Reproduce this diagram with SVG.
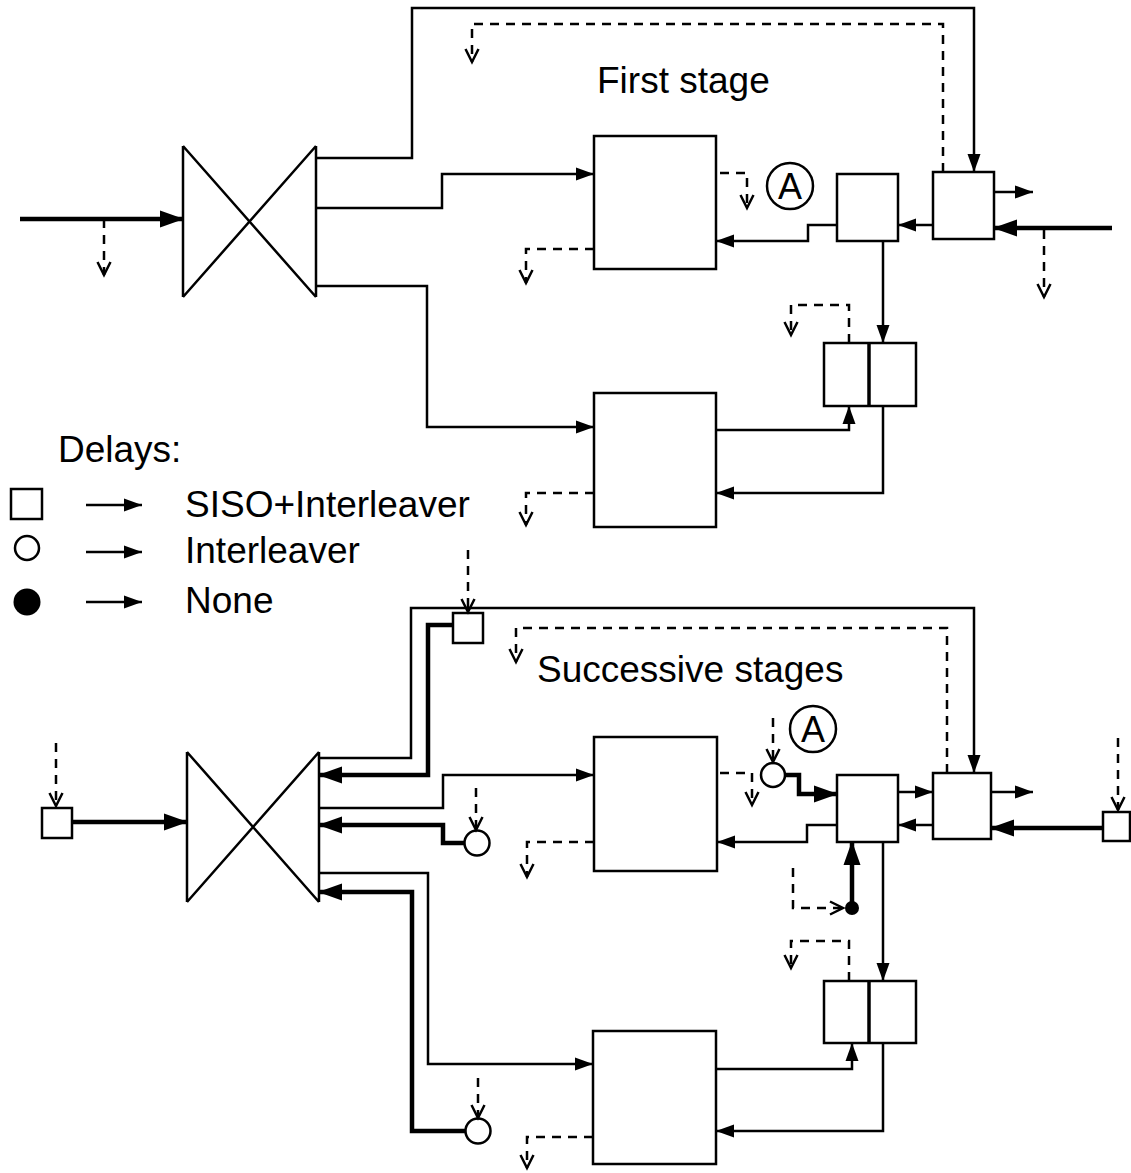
<svg xmlns="http://www.w3.org/2000/svg" width="1131" height="1173" viewBox="0 0 1131 1173">
<style>
.ln{fill:none;stroke:#000;stroke-width:2.5;stroke-linejoin:miter}
.tk{fill:none;stroke:#000;stroke-width:4.5;stroke-linejoin:miter}
.ds{fill:none;stroke:#000;stroke-width:2.5;stroke-dasharray:9 7}
.bx{fill:#fff;stroke:#000;stroke-width:2.5}
.txt{font-family:"Liberation Sans",Arial,sans-serif;font-size:37px;fill:#000}
.lbl{font-family:"Liberation Sans",Arial,sans-serif;font-size:36px;fill:#000;text-anchor:middle}
</style>
<defs>
<marker id="ah" markerUnits="userSpaceOnUse" markerWidth="18" markerHeight="13" refX="18" refY="6.5" orient="auto" overflow="visible"><path d="M0,0 L18,6.5 L0,13 z" fill="#000"/></marker>
<marker id="ahk" markerUnits="userSpaceOnUse" markerWidth="24" markerHeight="17" refX="23" refY="8.5" orient="auto" overflow="visible"><path d="M0,0 L24,8.5 L0,17 z" fill="#000"/></marker>
<marker id="ao" markerUnits="userSpaceOnUse" markerWidth="14" markerHeight="13" refX="13" refY="6.5" orient="auto" overflow="visible"><path d="M0,0 L13,6.5 L0,13" fill="none" stroke="#000" stroke-width="2.5"/></marker>
</defs>

<!-- ============ TOP: First stage ============ -->
<g id="butterfly1">
<path class="ln" d="M183,146 L183,297 M316,146 L316,297 M183,146 L316,297 M316,146 L183,297"/>
</g>
<g id="siso1a"><rect class="bx" x="594" y="136" width="122" height="133"/></g>
<g id="siso1b"><rect class="bx" x="594" y="393" width="122" height="134"/></g>
<g id="box1b"><rect class="bx" x="837" y="174" width="61" height="67"/></g>
<g id="box1c"><rect class="bx" x="933" y="172" width="61" height="67"/></g>
<g id="dbl1"><rect class="bx" x="824" y="343" width="92" height="63"/><line x1="869" y1="343" x2="869" y2="406" stroke="#000" stroke-width="3.5"/></g>
<g id="markA1"><circle cx="790" cy="186" r="23" fill="none" stroke="#000" stroke-width="2.5"/><text class="lbl" x="790" y="199">A</text></g>
<g id="title1"><text class="txt" x="597" y="93">First stage</text></g>

<!-- ============ Legend ============ -->
<g id="legend">
<text class="txt" x="58" y="462">Delays:</text>
<rect class="bx" x="11" y="489" width="31" height="30"/>
<circle cx="27" cy="548" r="12" fill="#fff" stroke="#000" stroke-width="2.5"/>
<circle cx="27" cy="602" r="13.5" fill="#000"/>
<line class="ln" x1="86" y1="505" x2="142" y2="505" marker-end="url(#ah)"/>
<line class="ln" x1="86" y1="552" x2="142" y2="552" marker-end="url(#ah)"/>
<line class="ln" x1="86" y1="602" x2="142" y2="602" marker-end="url(#ah)"/>
<text class="txt" x="185" y="517">SISO+Interleaver</text>
<text class="txt" x="185" y="563">Interleaver</text>
<text class="txt" x="185" y="613">None</text>
</g>

<!-- ============ BOTTOM: Successive stages ============ -->
<g id="butterfly2">
<path class="ln" d="M187,752 L187,902 M319,752 L319,902 M187,752 L319,902 M319,752 L187,902"/>
</g>
<g id="sqIn"><rect class="bx" x="42" y="808" width="30" height="30"/></g>
<g id="sqTop"><rect class="bx" x="453" y="613" width="30" height="30"/></g>
<g id="circMid"><circle cx="477" cy="843" r="12.5" fill="#fff" stroke="#000" stroke-width="2.5"/></g>
<g id="circBot"><circle cx="478" cy="1131" r="12.5" fill="#fff" stroke="#000" stroke-width="2.5"/></g>
<g id="siso2a"><rect class="bx" x="594" y="737" width="123" height="134"/></g>
<g id="siso2b"><rect class="bx" x="593" y="1031" width="123" height="133"/></g>
<g id="circInt"><circle cx="773" cy="775" r="12" fill="#fff" stroke="#000" stroke-width="2.5"/></g>
<g id="markA2"><circle cx="813" cy="729" r="23" fill="none" stroke="#000" stroke-width="2.5"/><text class="lbl" x="813" y="742">A</text></g>
<g id="box2b"><rect class="bx" x="837" y="775" width="61" height="67"/></g>
<g id="box2c"><rect class="bx" x="933" y="773" width="58" height="66"/></g>
<g id="sqRight"><rect class="bx" x="1103" y="812" width="27" height="29"/></g>
<g id="dot"><circle cx="852" cy="908" r="7" fill="#000"/></g>
<g id="dbl2"><rect class="bx" x="824" y="981" width="92" height="62"/><line x1="869" y1="981" x2="869" y2="1043" stroke="#000" stroke-width="3.5"/></g>
<g id="title2"><text class="txt" x="537" y="682">Successive stages</text></g>

<!-- ============ Connectors ============ -->
<g id="connectors">
<!-- top -->
<polyline class="tk" points="20,219 183,219" marker-end="url(#ahk)"/>
<polyline class="ds" points="104,219 104,275" marker-end="url(#ao)"/>
<polyline class="ln" points="316,158 412,158 412,8 974,8 974,172" marker-end="url(#ah)"/>
<polyline class="ln" points="316,208 442,208 442,174 594,174" marker-end="url(#ah)"/>
<polyline class="ln" points="316,286 427,286 427,427 594,427" marker-end="url(#ah)"/>
<polyline class="ds" points="943,172 943,24 472,24 472,62" marker-end="url(#ao)"/>
<polyline class="ds" points="720,173 747,173 747,208" marker-end="url(#ao)"/>
<polyline class="ds" points="594,249 526,249 526,283" marker-end="url(#ao)"/>
<polyline class="ln" points="994,192 1033,192" marker-end="url(#ah)"/>
<polyline class="tk" points="1112,228 994,228" marker-end="url(#ahk)"/>
<polyline class="ds" points="1044,230 1044,297" marker-end="url(#ao)"/>
<polyline class="ln" points="933,225 898,225" marker-end="url(#ah)"/>
<polyline class="ln" points="837,225 808,225 808,241 716,241" marker-end="url(#ah)"/>
<polyline class="ln" points="883,241 883,343" marker-end="url(#ah)"/>
<polyline class="ds" points="849,343 849,305 791,305 791,335" marker-end="url(#ao)"/>
<polyline class="ln" points="716,430 849,430 849,406" marker-end="url(#ah)"/>
<polyline class="ln" points="883,406 883,493 716,493" marker-end="url(#ah)"/>
<polyline class="ds" points="594,493 526,493 526,525" marker-end="url(#ao)"/>
<!-- bottom -->
<polyline class="tk" points="72,822 187,822" marker-end="url(#ahk)"/>
<polyline class="ds" points="56,743 56,806" marker-end="url(#ao)"/>
<polyline class="ln" points="319,758 411,758 411,608 974,608 974,773" marker-end="url(#ah)"/>
<polyline class="tk" points="453,625 428,625 428,775 319,775" marker-end="url(#ahk)"/>
<polyline class="ds" points="468,550 468,612" marker-end="url(#ao)"/>
<polyline class="ln" points="319,808 443,808 443,775 594,775" marker-end="url(#ah)"/>
<polyline class="tk" points="464,843 443,843 443,825 319,825" marker-end="url(#ahk)"/>
<polyline class="ds" points="476,788 476,830" marker-end="url(#ao)"/>
<polyline class="ln" points="319,873 428,873 428,1064 593,1064" marker-end="url(#ah)"/>
<polyline class="tk" points="465,1131 412,1131 412,892 319,892" marker-end="url(#ahk)"/>
<polyline class="ds" points="478,1078 478,1118" marker-end="url(#ao)"/>
<polyline class="ds" points="947,773 947,628 516,628 516,662" marker-end="url(#ao)"/>
<polyline class="ds" points="720,773 752,773 752,805" marker-end="url(#ao)"/>
<polyline class="ds" points="773,718 773,762" marker-end="url(#ao)"/>
<polyline class="tk" points="785,775 799,775 799,794 837,794" marker-end="url(#ahk)"/>
<polyline class="ln" points="898,792 933,792" marker-end="url(#ah)"/>
<polyline class="ln" points="933,825 898,825" marker-end="url(#ah)"/>
<polyline class="ln" points="991,792 1033,792" marker-end="url(#ah)"/>
<polyline class="tk" points="1103,828 991,828" marker-end="url(#ahk)"/>
<polyline class="ds" points="1118,738 1118,810" marker-end="url(#ao)"/>
<polyline class="ln" points="837,825 807,825 807,842 717,842" marker-end="url(#ah)"/>
<polyline class="ds" points="594,842 527,842 527,877" marker-end="url(#ao)"/>
<polyline class="tk" points="852,908 852,842" marker-end="url(#ahk)"/>
<polyline class="ds" points="793,868 793,908 843,908" marker-end="url(#ao)"/>
<polyline class="ln" points="883,842 883,981" marker-end="url(#ah)"/>
<polyline class="ds" points="849,981 849,941 791,941 791,968" marker-end="url(#ao)"/>
<polyline class="ln" points="716,1069 852,1069 852,1043" marker-end="url(#ah)"/>
<polyline class="ln" points="883,1043 883,1131 716,1131" marker-end="url(#ah)"/>
<polyline class="ds" points="593,1137 527,1137 527,1168" marker-end="url(#ao)"/>
</g>
</svg>
